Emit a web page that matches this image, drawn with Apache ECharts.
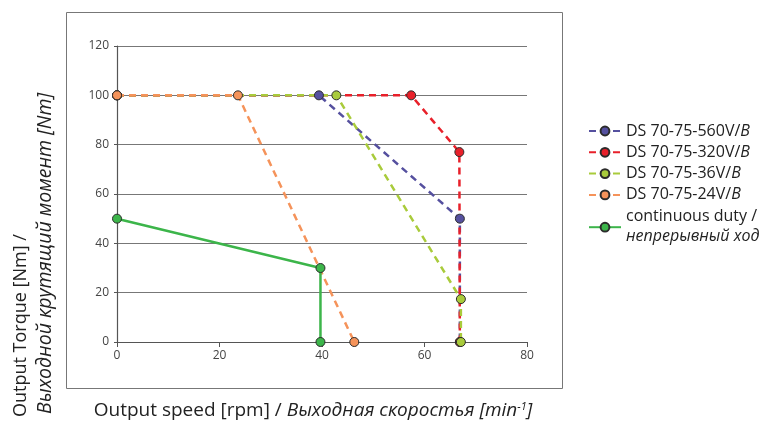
<!DOCTYPE html>
<html>
<head>
<meta charset="utf-8">
<script src="https://cdn.jsdelivr.net/npm/echarts@6/dist/echarts.min.js"></script>
<style>
    html, body { margin: 0; padding: 0; background: #fff; }
    #chart { width: 771px; height: 425px; }
</style>
</head>
<body>
<div id="chart"></div>
<script type="text/javascript">
    // data: [speed rpm, torque Nm]
    var s560 = [[0, 100], [39.4, 100], [66.9, 50], [66.9, 0]];
    var s320 = [[0, 100], [57.4, 100], [66.8, 77], [66.9, 0]];
    var s36 = [[0, 100], [42.8, 100], [67.1, 17.4], [67.1, 0]];
    var s24 = [[0, 100], [23.6, 100], [46.3, 0]];
    var sCont = [[0, 50], [39.7, 30], [39.7, 0]];

    var names = ['DS 70-75-560V/', 'DS 70-75-320V/', 'DS 70-75-36V/', 'DS 70-75-24V/', 'continuous duty /'];
    var colors = ['#55509f', '#e8202a', '#a9cb3b', '#f5935a', '#3cb54a'];
    var xTicks = [0, 20, 40, 60, 80];
    var yTicks = [0, 20, 40, 60, 80, 100, 120];

    var font = 'Open Sans';

    function line(name, data, color, dashed) {
        return {
            name: name,
            type: 'line',
            data: data,
            symbol: 'circle',
            symbolSize: 9,
            showSymbol: true,
            animation: false,
            lineStyle: { color: color, width: 2.5, type: dashed ? [7, 5] : 'solid' },
            itemStyle: { color: color, borderColor: '#2b2b2b', borderWidth: 1 }
        };
    }

    var myChart = echarts.init(document.getElementById('chart'));
    var option = {
        animation: false,
        grid: { left: 117, right: 244, top: 46, bottom: 83 },
        xAxis: {
            type: 'value',
            min: xTicks[0],
            max: xTicks[xTicks.length - 1],
            interval: 20,
            splitLine: { show: false },
            axisLine: { lineStyle: { color: '#555', width: 1.2 } },
            axisTick: { show: true, length: 5, lineStyle: { color: '#555' } },
            axisLabel: { color: '#444', fontFamily: font, fontSize: 12, margin: 8 }
        },
        yAxis: {
            type: 'value',
            min: yTicks[0],
            max: yTicks[yTicks.length - 1],
            interval: 20,
            splitLine: { show: true, lineStyle: { color: '#777', width: 1 } },
            axisLine: { show: true, lineStyle: { color: '#555', width: 1.2 } },
            axisTick: { show: true, length: 3, lineStyle: { color: '#555' } },
            axisLabel: { color: '#444', fontFamily: font, fontSize: 12, margin: 8 }
        },
        legend: {
            orient: 'vertical',
            left: 583,
            top: 117,
            itemWidth: 32,
            itemHeight: 11,
            itemGap: 3.3,
            itemTextGap: 12,
            data: names,
            textStyle: {
                fontFamily: font,
                fontSize: 16,
                lineHeight: 18,
                color: '#222',
                rich: {
                    i: { fontFamily: font, fontStyle: 'italic', fontSize: 16, lineHeight: 18, color: '#222' },
                    j: { fontFamily: font, fontStyle: 'italic', fontSize: 16, lineHeight: 22, color: '#222' }
                }
            },
            formatter: function (n) {
                if (n === names[4]) {
                    return n + '\n{j|непрерывный ход}';
                }
                return n + '{i|В}';
            }
        },
        graphic: [
            {
                type: 'rect',
                shape: { x: 66.5, y: 12.5, width: 496, height: 376 },
                style: { fill: 'none', stroke: '#777', lineWidth: 1 },
                z: -1
            },
            {
                type: 'text',
                x: 21,
                y: 417,
                rotation: Math.PI / 2,
                style: {
                    text: 'Output Torque [Nm] /',
                    fontFamily: font,
                    fontSize: 18,
                    fill: '#222',
                    textAlign: 'left',
                    textVerticalAlign: 'middle'
                }
            },
            {
                type: 'text',
                x: 45,
                y: 414,
                rotation: Math.PI / 2,
                style: {
                    text: 'Выходной крутящий момент [Nm]',
                    fontFamily: font,
                    fontStyle: 'italic',
                    fontSize: 19.5,
                    fill: '#222',
                    textAlign: 'left',
                    textVerticalAlign: 'middle'
                }
            },
            {
                type: 'text',
                x: 313,
                y: 411,
                style: {
                    text: '{n|Output speed [rpm] / }{i|Выходная скоростья [min}{s|-1}{i|]}',
                    textAlign: 'center',
                    textVerticalAlign: 'middle',
                    rich: {
                        n: { fontFamily: font, fontSize: 19, fill: '#222' },
                        i: { fontFamily: font, fontSize: 19, fontStyle: 'italic', fill: '#222' },
                        s: { fontFamily: font, fontSize: 11, fontStyle: 'italic', fill: '#222', verticalAlign: 'top' }
                    }
                }
            }
        ],
        series: [
            line(names[0], s560, colors[0], true),
            line(names[1], s320, colors[1], true),
            line(names[2], s36, colors[2], true),
            line(names[3], s24, colors[3], true),
            line(names[4], sCont, colors[4], false)
        ]
    };
    myChart.setOption(option);
</script>
</body>
</html>
